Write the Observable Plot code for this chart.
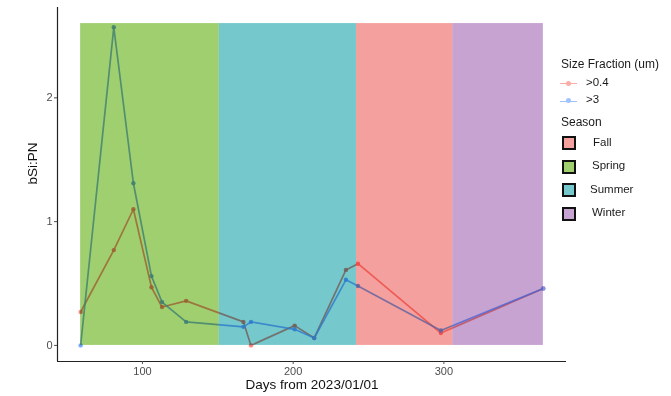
<!DOCTYPE html>
<html>
<head>
<meta charset="utf-8">
<script src="https://cdn.jsdelivr.net/npm/d3@7"></script>
<script src="https://cdn.jsdelivr.net/npm/@observablehq/plot@0.6"></script>
<style>
  body { margin: 0; background: #fff; font-family: "Liberation Sans", Arial, sans-serif; }
  #wrap { position: relative; width: 671px; height: 396px; }
  .leg { position: absolute; font-size: 11.5px; color: #1a1a1a; white-space: nowrap; }
  .box { position: absolute; width: 10px; height: 10px; border: 2px solid #111; }
  .key { position: absolute; width: 17px; height: 0; }
  .key i { position: absolute; left: 6px; top: -2.5px; width: 5px; height: 5px; border-radius: 50%; }
  g[aria-label="rect"] { mix-blend-mode: multiply; }
</style>
</head>
<body>
<div id="wrap"></div>
<script>
// ---- data ----
const days = [59, 81, 94, 106, 113, 129, 167, 172, 201, 214, 235, 243, 298, 366];
const fraction04 = [0.27, 0.77, 1.10, 0.47, 0.31, 0.36, 0.19, 0.00, 0.16, 0.06, 0.61, 0.66, 0.10, 0.46];
const fraction3  = [0.00, 2.57, 1.31, 0.56, 0.35, 0.19, 0.15, 0.19, 0.13, 0.06, 0.53, 0.48, 0.12, 0.46];
const fractions = [">0.4", ">3"];
const seasons = ["Fall", "Spring", "Summer", "Winter"];
const seasonStart = [242, 59, 151, 306];
const seasonEnd = [306, 151, 242, 366];
const seasonTop = 2.6;
const xTicks = [100, 200, 300];
const yTicks = [0, 1, 2];

// ---- styles ----
const lineColors = ["#F8766D", "#619CFF"];
const seasonSwatch = ["#F4A09E", "#A0CF70", "#75C9CC", "#C6A3D1"];

const rows = [];
days.forEach((d, i) => {
  rows.push({day: d, value: fraction04[i], fraction: fractions[0]});
});
days.forEach((d, i) => {
  rows.push({day: d, value: fraction3[i], fraction: fractions[1]});
});
const seasonRows = seasons.map((s, i) => ({season: s, x1: seasonStart[i], x2: seasonEnd[i]}));

// ggplot-style 5% expansion
const xMin = d3.min(days), xMax = d3.max(days);
const xPad = (xMax - xMin) * 0.05;
const yMax = Math.max(seasonTop, d3.max(fraction3));
const yPad = yMax * 0.05;
const xDomain = [xMin - xPad, xMax + xPad];
const yDomain = [0 - yPad, yMax + yPad];

const chart = Plot.plot({
  width: 671,
  height: 396,
  marginLeft: 57,
  marginRight: 105,
  marginTop: 7,
  marginBottom: 35,
  style: {fontFamily: "Liberation Sans, Arial, sans-serif", background: "white"},
  x: {domain: xDomain},
  y: {domain: yDomain},
  color: {domain: [...fractions, ...seasons], range: [...lineColors, ...seasonSwatch]},
  marks: [
    Plot.line(rows, {x: "day", y: "value", z: "fraction", stroke: "fraction", strokeWidth: 1.7, strokeOpacity: 0.8}),
    Plot.dot(rows, {x: "day", y: "value", fill: "fraction", r: 2.2, fillOpacity: 0.85}),
    Plot.rect(seasonRows, {x1: "x1", x2: "x2", y1: 0, y2: seasonTop, fill: "season", mixBlendMode: "multiply"}),
    Plot.ruleX([xDomain[0]], {stroke: "#222", strokeWidth: 1.2}),
    Plot.ruleY([yDomain[0]], {stroke: "#222", strokeWidth: 1.2}),
    Plot.axisX({ticks: xTicks, tickSize: 3, tickPadding: 3, fontSize: 11, color: "#4d4d4d", label: null}),
    Plot.axisY({ticks: yTicks, tickFormat: d3.format("d"), tickSize: 3, tickPadding: 2, fontSize: 11, color: "#4d4d4d", label: null}),
    Plot.text(["Days from 2023/01/01"], {frameAnchor: "bottom", dy: 27, fontSize: 13.5, fill: "#111"}),
    Plot.text(["bSi:PN"], {frameAnchor: "left", dx: -25, rotate: -90, fontSize: 13.5, fill: "#111"})
  ]
});
const wrap = document.getElementById("wrap");
wrap.appendChild(chart);

// ---- legend ----
function add(html, left, top, cls) {
  const el = document.createElement("div");
  el.className = cls || "leg";
  el.style.left = left + "px";
  el.style.top = top + "px";
  el.innerHTML = html;
  wrap.appendChild(el);
  return el;
}
add("Size Fraction (um)", 561, 57).style.fontSize = "12px";
fractions.forEach((f, i) => {
  const y = 83 + i * 17.5;
  const k = add("", 560, y, "key");
  k.style.borderTop = "1.5px solid " + lineColors[i];
  k.style.opacity = "0.6";
  k.innerHTML = `<i style="background:${lineColors[i]};top:-3.5px"></i>`;
  add(f, 586, y - 7.5);
});
add("Season", 561, 115).style.fontSize = "12px";
seasons.forEach((s, i) => {
  const y = 143 + i * 23.5;
  const b = add("", 562, y - 7, "box");
  b.style.background = seasonSwatch[i];
  add(s, s === "Summer" ? 590 : (s === "Fall" ? 593 : 592), y - 7.5);
});
</script>
</body>
</html>
